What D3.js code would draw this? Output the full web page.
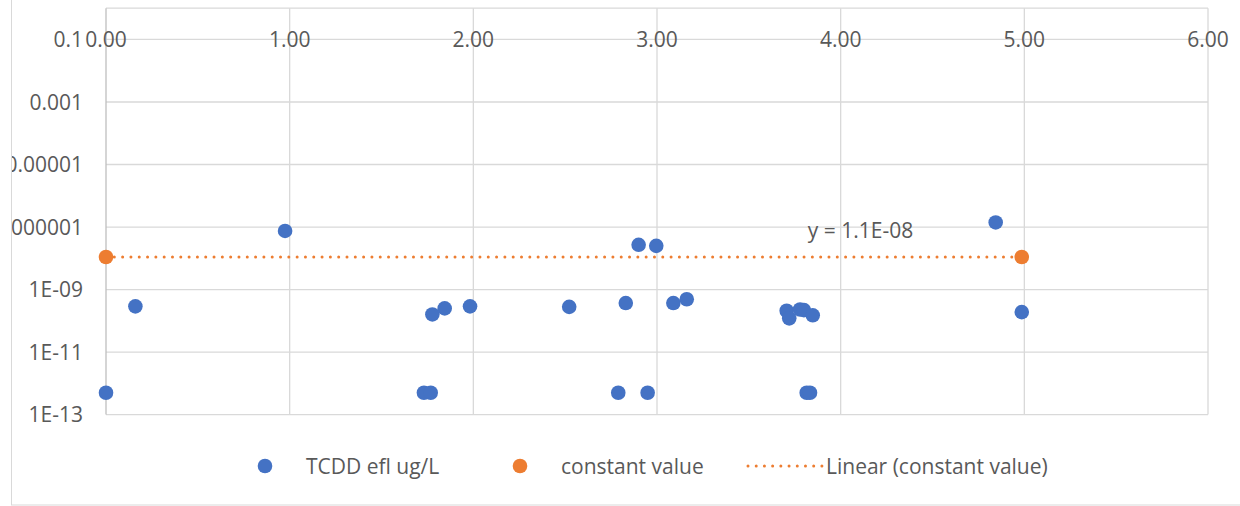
<!DOCTYPE html>
<html><head><meta charset="utf-8">
<script src="https://cdn.jsdelivr.net/npm/d3@7"></script>
<style>html,body{margin:0;padding:0;background:#fff;}svg{display:block;}</style>
</head><body>
<svg id="chart" width="1240" height="506"></svg>
<script>
const tcddX = [0, 0.16, 0.975, 1.731, 1.768, 1.777, 1.844, 1.982, 2.522, 2.789, 2.830, 2.900, 2.949, 2.996, 3.089, 3.162, 3.706, 3.720, 3.779, 3.800, 3.848, 3.815, 3.833, 4.844, 4.986];
const tcddY = [5e-13, 2.9e-10, 7.5e-8, 5e-13, 5e-13, 1.6e-10, 2.5e-10, 2.9e-10, 2.8e-10, 5e-13, 3.7e-10, 2.7e-8, 5e-13, 2.5e-8, 3.7e-10, 4.9e-10, 2.1e-10, 1.2e-10, 2.3e-10, 2.2e-10, 1.5e-10, 5e-13, 5e-13, 1.4e-7, 1.9e-10];
const constantX = [0, 4.986];
const constantY = [1.1e-8, 1.1e-8];
const xTicks = [0, 1, 2, 3, 4, 5, 6];
const yTicks = [1e-13, 1e-11, 1e-9, 1e-7, 1e-5, 1e-3, 0.1];
const yTickLabels = ["1E-13", "1E-11", "1E-09", "0.0000001", "0.00001", "0.001", "0.1"];
const seriesNames = ["TCDD efl ug/L", "constant value", "Linear (constant value)"];
const trendLabel = "y = 1.1E-08";

const svg = d3.select("#chart");
const FONT = "'Open Sans', sans-serif";
const TXT = "#595959", GRID = "#d9d9d9", BLUE = "#4472C4", ORANGE = "#ED7D31";

const x = d3.scaleLinear().domain([0, 6]).range([106, 1208]);
const y = d3.scaleLog().domain([1e-13, 1]).range([414.6, 8.2]);

// chart area border
svg.append("rect").attr("x", 11.5).attr("y", -5).attr("width", 1300).attr("height", 510)
  .attr("fill", "none").attr("stroke", GRID).attr("stroke-width", 1);

svg.append("defs").append("clipPath").attr("id", "cl")
  .append("rect").attr("x", 12).attr("y", 0).attr("width", 1228).attr("height", 506);

// horizontal gridlines
svg.append("g").selectAll("line").data(yTicks).join("line")
  .attr("x1", x(0)).attr("x2", x(6))
  .attr("y1", d => y(d)).attr("y2", d => y(d))
  .attr("stroke", GRID).attr("stroke-width", 1.3);
// vertical gridlines
svg.append("g").selectAll("line").data(xTicks.slice(1)).join("line")
  .attr("x1", d => x(d)).attr("x2", d => x(d))
  .attr("y1", y(1)).attr("y2", y(1e-13))
  .attr("stroke", GRID).attr("stroke-width", 1.3);
// plot border top
svg.append("line").attr("x1", x(0)).attr("x2", x(6)).attr("y1", y(1)).attr("y2", y(1))
  .attr("stroke", GRID).attr("stroke-width", 1.3);
// y axis line
svg.append("line").attr("x1", x(0)).attr("x2", x(0)).attr("y1", y(1)).attr("y2", y(1e-13))
  .attr("stroke", "#bfbfbf").attr("stroke-width", 1.3);

// y tick labels
svg.append("g").attr("clip-path", "url(#cl)").selectAll("text").data(yTicks).join("text")
  .attr("x", 83).attr("y", d => y(d)).attr("dy", "0.36em")
  .attr("text-anchor", "end").attr("font-family", FONT).attr("font-size", 21)
  .attr("fill", TXT).text((d, i) => yTickLabels[i]);

// x tick labels
const fmt = d3.format(".2f");
svg.append("g").selectAll("text").data(xTicks).join("text")
  .attr("x", d => x(d)).attr("y", y(0.1)).attr("dy", "0.36em")
  .attr("text-anchor", "middle").attr("font-family", FONT).attr("font-size", 21)
  .attr("fill", TXT).text(d => fmt(d));

// trend line
svg.append("line")
  .attr("x1", x(constantX[0])).attr("x2", x(constantX[1]))
  .attr("y1", y(constantY[0])).attr("y2", y(constantY[1]))
  .attr("stroke", ORANGE).attr("stroke-width", 3)
  .attr("stroke-linecap", "round").attr("stroke-dasharray", "0.01 8.3");

// blue points
svg.append("g").selectAll("circle").data(tcddX).join("circle")
  .attr("cx", d => x(d)).attr("cy", (d, i) => y(tcddY[i])).attr("r", 7.3)
  .attr("fill", BLUE);

// orange points
svg.append("g").selectAll("circle").data(constantX).join("circle")
  .attr("cx", d => x(d)).attr("cy", (d, i) => y(constantY[i])).attr("r", 7.3)
  .attr("fill", ORANGE);

// trend label
svg.append("text").attr("x", x(constantX[1]) - 214).attr("y", y(constantY[1]) - 27)
  .attr("dy", "0.36em").attr("font-family", FONT).attr("font-size", 21)
  .attr("fill", TXT).text(trendLabel);

// legend
const ly = 466;
const leg = svg.append("g");
leg.append("circle").attr("cx", 265).attr("cy", ly).attr("r", 7.3).attr("fill", BLUE);
leg.append("text").attr("x", 306).attr("y", ly).attr("dy", "0.36em").attr("font-family", FONT)
  .attr("font-size", 21).attr("fill", TXT).text(seriesNames[0]);
leg.append("circle").attr("cx", 520).attr("cy", ly).attr("r", 7.3).attr("fill", ORANGE);
leg.append("text").attr("x", 561).attr("y", ly).attr("dy", "0.36em").attr("font-family", FONT)
  .attr("font-size", 21).attr("fill", TXT).text(seriesNames[1]);
leg.append("line").attr("x1", 748).attr("x2", 822).attr("y1", ly).attr("y2", ly)
  .attr("stroke", ORANGE).attr("stroke-width", 3).attr("stroke-linecap", "round")
  .attr("stroke-dasharray", "0.01 8.2");
leg.append("text").attr("x", 826).attr("y", ly).attr("dy", "0.36em").attr("font-family", FONT)
  .attr("font-size", 21).attr("fill", TXT).text(seriesNames[2]);
</script>
</body></html>
